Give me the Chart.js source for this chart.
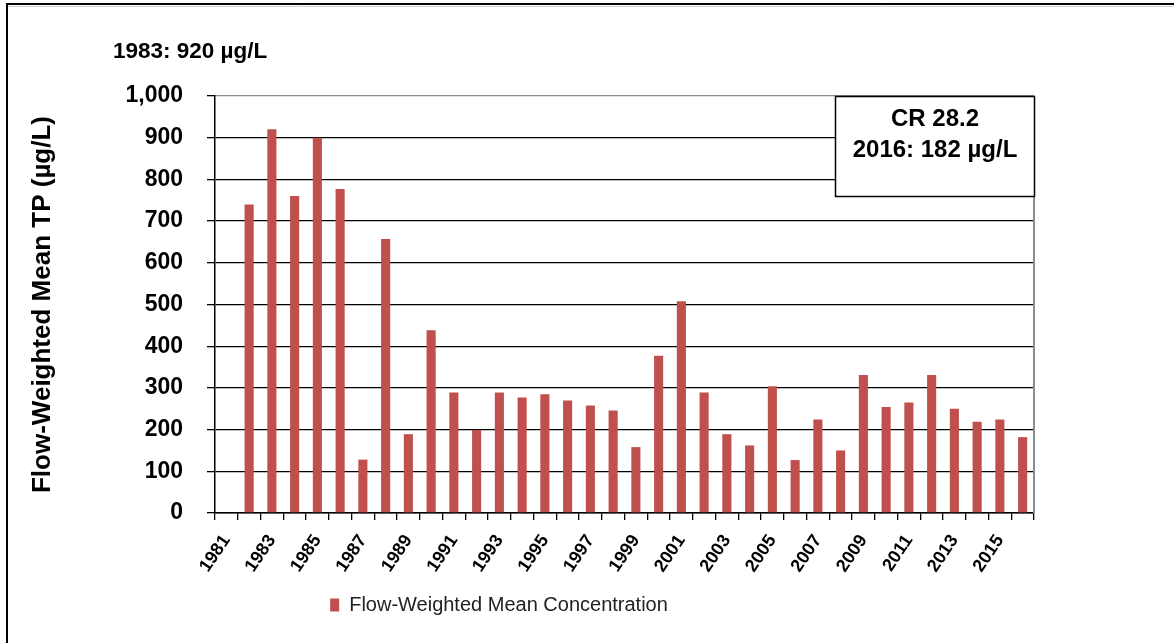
<!DOCTYPE html>
<html>
<head>
<meta charset="utf-8">
<script src="https://cdn.jsdelivr.net/npm/chart.js@4.4.1/dist/chart.umd.min.js"></script>
<style>
  body { margin: 0; background: #fff; }
  #wrap { width: 1174px; height: 643px; position: relative; }
</style>
</head>
<body>
<div id="wrap"><canvas id="chart-bar"></canvas></div>
<script>
// data
var years = ["1981", "1982", "1983", "1984", "1985", "1986", "1987", "1988", "1989", "1990",
  "1991", "1992", "1993", "1994", "1995", "1996", "1997", "1998", "1999", "2000",
  "2001", "2002", "2003", "2004", "2005", "2006", "2007", "2008", "2009", "2010",
  "2011", "2012", "2013", "2014", "2015", "2016"];
var meanTP = [null, 740, 920, 760, 900, 777, 128, 657, 189, 438,
  289, 199, 289, 277, 285, 270, 258, 246, 158, 377,
  508, 289, 189, 162, 304, 127, 224, 150, 331, 254,
  265, 331, 250, 219, 224, 182];
var peakNote = "1983: 920 µg/L";
var boxLines = ["CR 28.2", "2016: 182 µg/L"];

var barColor = "#C0504D";

// frame, plot border and the two text notes
var decorations = {
  id: "decorations",
  afterLayout: function (chart) {
    // legend sits a bit left of centre in the original
    chart.legend.left -= 18;
    chart.legend.right -= 18;
  },
  beforeDraw: function (chart) {
    var c = chart.ctx;
    c.save();
    c.fillStyle = "#fff";
    c.fillRect(0, 0, chart.width, chart.height);
    c.strokeStyle = "#000";
    c.lineWidth = 2;
    c.beginPath();
    c.moveTo(7, 643);
    c.lineTo(7, 4);
    c.lineTo(1174, 4);
    c.stroke();
    c.strokeStyle = "#cfcfcf";
    c.lineWidth = 1;
    c.beginPath();
    c.moveTo(8, 6.5);
    c.lineTo(1174, 6.5);
    c.stroke();
    c.restore();
  },
  afterDraw: function (chart) {
    var c = chart.ctx;
    var a = chart.chartArea;
    c.save();
    // right plot border
    c.strokeStyle = "#8c8c8c";
    c.lineWidth = 2;
    c.beginPath();
    c.moveTo(a.right, a.top);
    c.lineTo(a.right, a.bottom);
    c.stroke();

    c.fillStyle = "#000";
    c.font = "bold 22.5px 'Liberation Sans', Arial, sans-serif";
    c.textAlign = "left";
    c.textBaseline = "middle";
    c.fillText(peakNote, 113, 52);

    // station box
    c.fillStyle = "#fff";
    c.fillRect(835, 96, 200, 101);
    c.strokeStyle = "#000";
    c.lineWidth = 1.5;
    c.strokeRect(835.5, 96.5, 199, 100);
    c.fillStyle = "#000";
    c.font = "bold 24px 'Liberation Sans', Arial, sans-serif";
    c.textAlign = "center";
    c.fillText(boxLines[0], 935, 119);
    c.fillText(boxLines[1], 935, 150);
    c.restore();
  }
};

var ctx = document.getElementById("chart-bar").getContext("2d");

new Chart(ctx, {
  type: "bar",
  data: {
    labels: years,
    datasets: [
      {
        label: "Flow-Weighted Mean Concentration",
        data: meanTP,
        backgroundColor: barColor,
        borderWidth: 0,
        barPercentage: 0.4,
        categoryPercentage: 1.0,
      },
    ],
  },
  options: {
    responsive: true,
    maintainAspectRatio: false,
    animation: false,
    layout: {
      padding: { top: 96, right: 140, left: 0, bottom: 18 },
    },
    plugins: {
      legend: {
        display: true,
        position: "bottom",
        labels: {
          boxWidth: 9,
          boxHeight: 13,
          padding: 10,
          color: "#222",
          font: { size: 20, family: "'Liberation Sans', Arial, sans-serif" },
        },
      },
      tooltip: { enabled: false },
    },
    scales: {
      y: {
        min: 0,
        max: 1000,
        afterFit: function (s) { s.width = 215; },
        grid: {
          display: true,
          drawOnChartArea: true,
          drawTicks: true,
          tickLength: 8,
          lineWidth: 1.3,
          tickColor: "#000",
          color: function (c) { return c.tick && c.tick.value === 1000 ? "#8c8c8c" : "#000"; },
        },
        border: { display: true, color: "#000", width: 1.5 },
        ticks: {
          stepSize: 100,
          padding: 24,
          color: "#000",
          font: { size: 23, weight: "bold", family: "'Liberation Sans', Arial, sans-serif" },
          callback: function (v) { return v.toLocaleString("en-US"); },
        },
        title: {
          display: true,
          text: "Flow-Weighted Mean TP (µg/L)",
          color: "#000",
          padding: { top: 27, bottom: 0 },
          font: { size: 26, weight: "bold", family: "'Liberation Sans', Arial, sans-serif" },
        },
      },
      x: {
        afterFit: function (s) { s.height = 72; },
        grid: {
          display: true,
          offset: true,
          drawOnChartArea: false,
          drawTicks: true,
          tickLength: 7,
          lineWidth: 1.3,
          color: "#000",
        },
        border: { display: true, color: "#000", width: 1.5 },
        ticks: {
          autoSkip: false,
          maxRotation: 56,
          minRotation: 56,
          padding: 11,
          color: "#000",
          font: { size: 18, weight: "bold", family: "'Liberation Sans', Arial, sans-serif" },
          callback: function (v, i) { return i % 2 === 0 ? years[i] : ""; },
        },
      },
    },
  },
  plugins: [decorations],
});
</script>
</body>
</html>
